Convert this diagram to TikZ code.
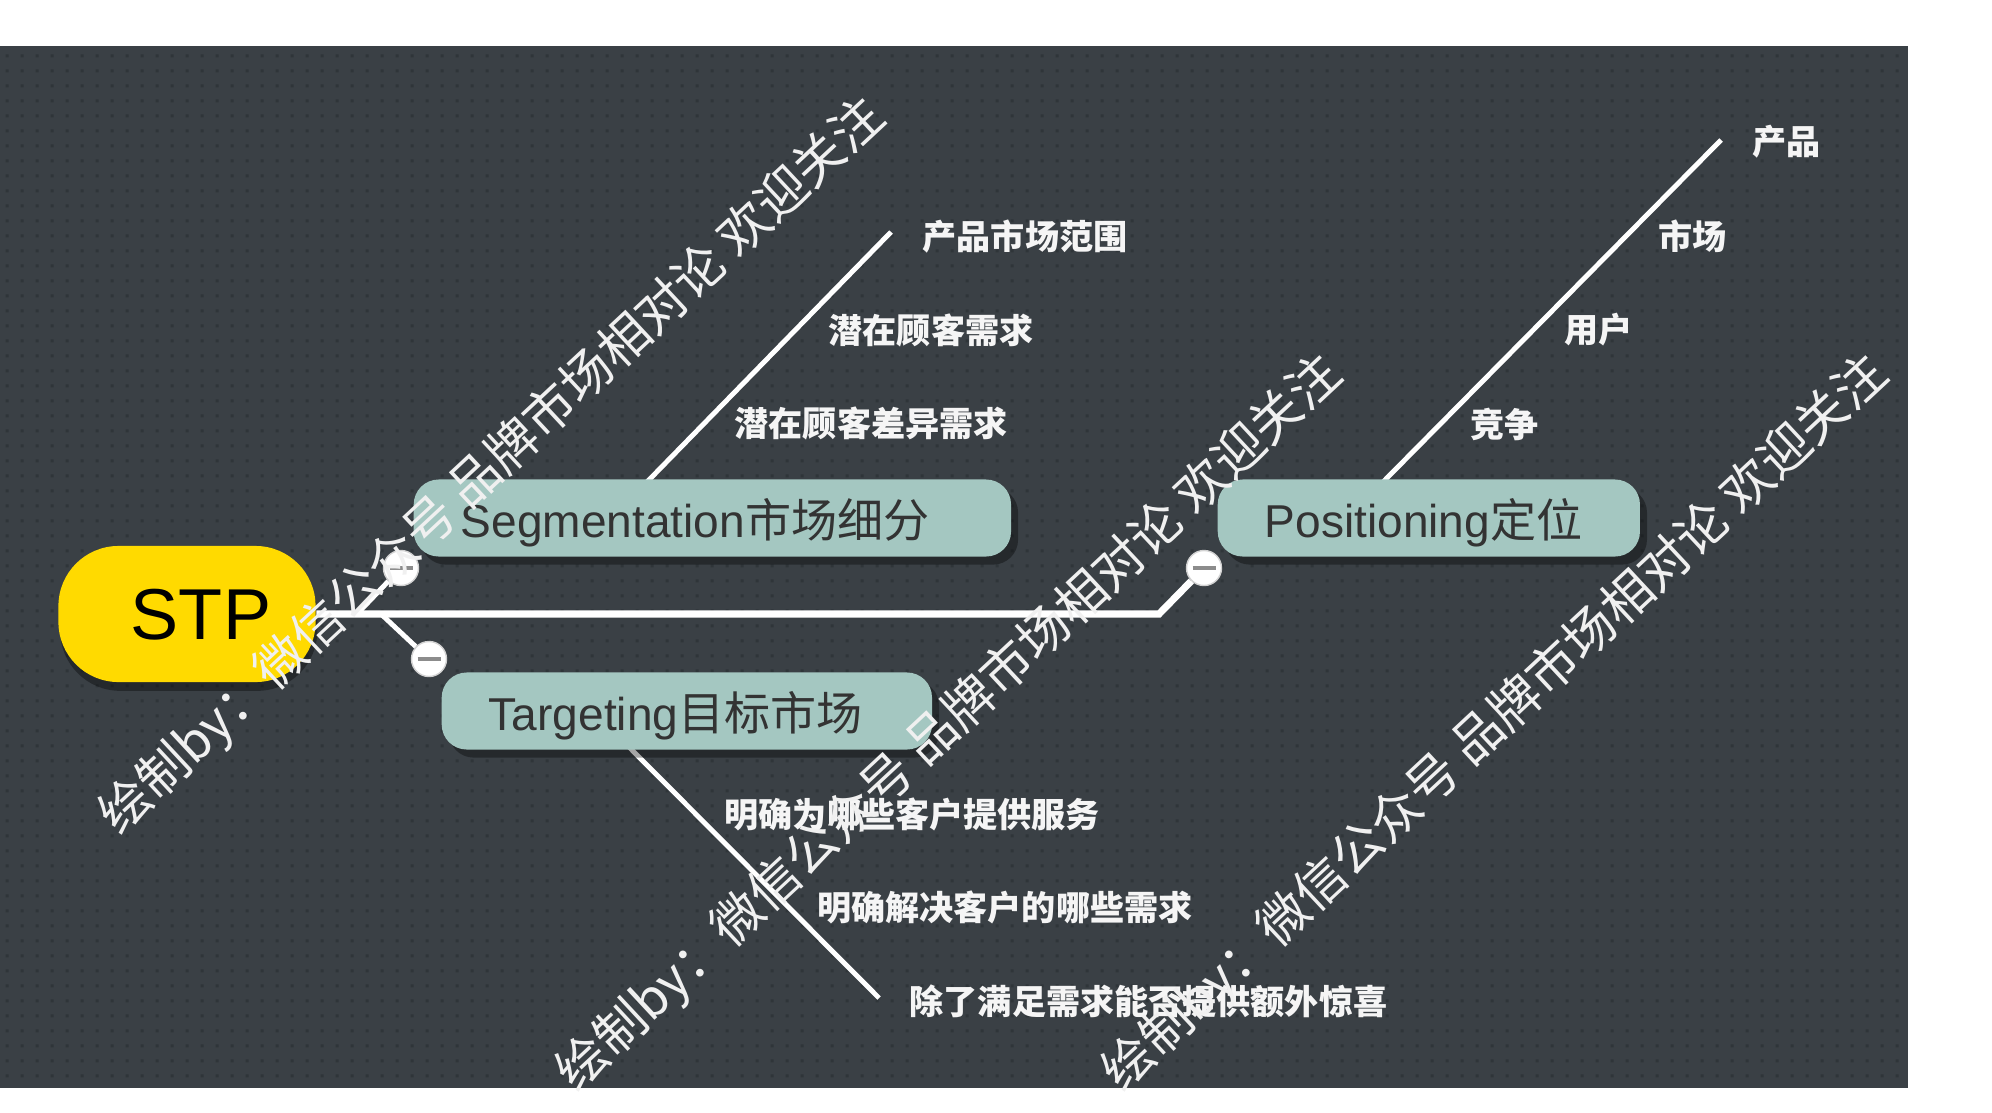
\documentclass[tikz,border=0pt]{standalone}
\usepackage{fontspec}
\setmainfont{Liberation Sans}
\newfontfamily\cjk{Noto Sans CJK SC}
\usetikzlibrary{shadows, patterns.meta}

\definecolor{panelgray}{RGB}{58,64,69}
\definecolor{dotgray}{RGB}{47,53,57}
\definecolor{sagefill}{RGB}{164,199,193}
\definecolor{stpyellow}{RGB}{255,218,0}
\definecolor{inkgray}{RGB}{51,51,51}

% small square dots of the canvas
\tikzdeclarepattern{
    name=bgdots,
    type=uncolored,
    bottom left={(0pt,0pt)},
    top right={(4.2pt,4.2pt)},
    tile size={(4.2pt,4.2pt)},
    code={
        \pgfpathrectangle{\pgfqpoint{1.6pt}{1.6pt}}{\pgfqpoint{0.9pt}{0.9pt}}
        \pgfusepath{fill}
    }
}

\begin{document}
\begin{tikzpicture}[
    x=0.01cm, y=-0.01cm,
    root/.style={rectangle, rounded corners=0.6cm, fill=stpyellow, minimum width=2.57cm, minimum height=1.36cm, inner sep=0, text depth=0pt, font=\fontsize{20.5}{24}\selectfont, drop shadow={shadow xshift=0.5pt, shadow yshift=-2.5pt, fill=black, opacity=0.35}},
    topic/.style={rectangle, rounded corners=0.25cm, fill=sagefill, text=inkgray, anchor=west, align=left, inner xsep=0.47cm, minimum height=0.77cm, text depth=0pt, font=\fontsize{13.1}{15}\selectfont, drop shadow={shadow xshift=2pt, shadow yshift=-2.3pt, fill=black, opacity=0.35}},
    toggle/.style={circle, draw=gray!35, fill=white, minimum size=0.35cm, inner sep=0, path picture={\draw[gray!90, line width=0.9pt] ([xshift=0.06cm]path picture bounding box.west) -- ([xshift=-0.06cm]path picture bounding box.east);}},
    leaf/.style={anchor=west, inner sep=0, text=white!92!gray, font=\cjk\bfseries\fontsize{9.7}{11}\selectfont},
    trunk/.style={draw=white, line width=2pt},
    twig/.style={draw=white, line width=1.4pt},
    stamp/.style={rotate=43, inner sep=0, text=white!88!gray, font=\cjk\fontsize{14.5}{17}\selectfont}
]
\useasboundingbox (0,0) rectangle (1992,1112);

% Canvas
\fill[panelgray] (0,46) rectangle (1908,1088);
\fill[pattern=bgdots, pattern color=dotgray] (0,46) rectangle (1908,1088);

% Branch points
\coordinate (bend) at (1159,614);
\coordinate (segfork) at (357,614);
\coordinate (targfork) at (381,614);
\coordinate (segroot) at (645,484);
\coordinate (segtip) at (891,232);
\coordinate (posroot) at (1381,484);
\coordinate (postip) at (1721,140);
\coordinate (targroot) at (628,746);
\coordinate (targtip) at (879,998);

% Fishbone lines
\draw[twig] (segroot) -- (segtip);
\draw[twig] (posroot) -- (postip);
\draw[twig] (targroot) -- (targtip);

% Topics
\node[root] (stp) at (187,614) {\hspace*{0.28cm}STP};
\node[topic, text width=5.03cm] (seg) at (413,518) {Segmentation{\cjk 市场细分}};
\node[topic, text width=3.96cm] (targ) at (441,711) {Targeting{\cjk 目标市场}};
\node[topic, text width=3.28cm] (pos) at (1217,518) {Positioning{\cjk 定位}};

% Collapse buttons
\node[toggle] (segbtn) at (401,568) {};
\node[toggle] (targbtn) at (429,659) {};
\node[toggle] (posbtn) at (1204,568) {};

% Connectors
\draw[trunk] (stp.east) -- (bend) -- (posbtn);
\draw[twig] (segfork) -- (segbtn);
\draw[twig] (targfork) -- (targbtn);

% Leaves
\foreach \txt [count=\k from 0] in {产品市场范围, 潜在顾客需求, 潜在顾客差异需求}
    \node[leaf] (segleaf\k) at ({922-94*\k}, {237+93*\k}) {\txt};
\foreach \txt [count=\k from 0] in {产品, 市场, 用户, 竞争}
    \node[leaf] (posleaf\k) at ({1752-94*\k}, {142+94*\k}) {\txt};
\foreach \txt [count=\k from 0] in {明确为哪些客户提供服务, 明确解决客户的哪些需求, 除了满足需求能否提供额外惊喜}
    \node[leaf] (targleaf\k) at ({724+92.5*\k}, {814+93.5*\k}) {\txt};

% Watermarks
\node[stamp] (wm1) at (493,467) {绘制by：微信公众号 品牌市场相对论 欢迎关注};
\node[stamp] (wm2) at (950,724) {绘制by：微信公众号 品牌市场相对论 欢迎关注};
\node[stamp] (wm3) at (1496,724) {绘制by：微信公众号 品牌市场相对论 欢迎关注};

\end{tikzpicture}
\end{document}
